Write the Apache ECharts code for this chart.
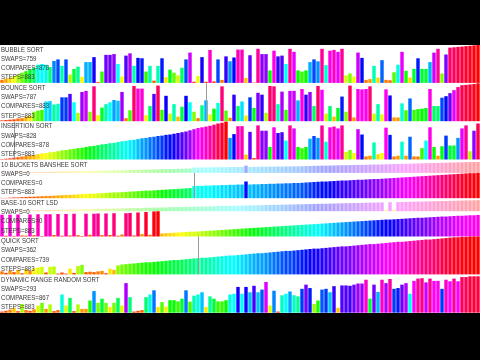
<!DOCTYPE html>
<html><head><meta charset="utf-8">
<script src="https://cdn.jsdelivr.net/npm/echarts@6/dist/echarts.min.js"></script>
<style>html,body{margin:0;padding:0;background:#000}#c{width:480px;height:360px}</style>
</head><body><div id="c"></div>
<script>
// ---- data ----
const categories = Array.from({length: 120}, (_, i) => i + 1);
const sortNames = ['BUBBLE SORT','BOUNCE SORT','INSERTION SORT','10 BUCKETS BANSHEE SORT','BASE-10 SORT LSD','QUICK SORT','DYNAMIC RANGE RANDOM SORT'];
const swapCounts = [759, 787, 828, 0, 0, 362, 293];
const compareCounts = [878, 883, 878, 0, 0, 739, 867];
const stepCounts = [883, 883, 883, 883, 883, 883, 883];
const pointerIndex = [null, 51, 3, 48, null, 49, null];

const bubbleVals = [8,11,14,18,22,27,31,36,40,48, 50,48,42,58,62,45,62,22,37,43,
 16,55,55,68,2,30,74,74,76,50, 17,72,78,45,66,65,30,45,6,45,
 65,15,35,27,20,40,62,80,3,18, 68,3,87,4,62,8,70,57,67,88,
 88,13,73,1,90,76,76,33,85,70, 72,50,90,82,33,30,33,55,62,57,
 90,47,85,87,82,90,20,25,17,80, 66,8,10,45,14,60,8,7,28,48,
 82,32,14,37,65,37,37,55,80,90, 25,75,93,94,95,96,97,98,99,100];
const bounceVals = [2,3,4,5,7,8,12,15,25,28, 30,52,53,44,46,63,63,72,50,22,
 77,80,25,92,16,36,45,50,56,54, 77,8,29,93,86,86,16,40,72,94,
 30,67,20,45,12,38,67,50,25,8, 42,55,18,33,48,92,28,9,70,40,
 52,15,63,35,75,70,22,93,92,45, 78,30,80,80,55,85,70,77,40,93,
 83,20,40,12,35,65,25,94,10,85, 84,85,92,20,45,18,84,68,10,10,
 47,29,60,30,32,33,35,85,40,40, 62,66,74,82,90,95,96,97,98,100];
const insertionVals = [1,2,3,5,6,8,9,11,12,14, 16,17,19,20,22,24,25,27,28,30,
 31,33,35,36,38,40,41,43,44,46, 48,49,51,52,54,56,57,59,60,62,
 63,65,66,68,70,72,74,77,80,83, 85,87,89,92,95,97,100,
 57,67,88,88,13,73,4,90,76,76, 33,85,70,72,50,90,82,33,30,33,
 55,62,57,90,47,85,87,82,90,20, 25,17,80,66,8,10,45,14,
 17,84,65,8,10,47,10,60,8,8, 30,50,85,33,10,35,63,37,37,57, 82,90,22,76,95];
const bucketVals = [1,1,2,3,3,4,5,6,6,7, 8,9,9,10,11,12,13,13,14,15,
 16,17,18,18,19,20,21,22,23,23, 24,25,26,27,28,29,30,30,31,32,
 33,34,35,36,37,38,39,40, 48,49,49,50,50,51,51,52,52,53,53,54,54, 66,
 54,55,55,56,56,57,57,58,58,59,59,60,60,61,
 62,63,64,65,66,66,67,68,69,70, 70,71,72,73,73,74,75,76,76,77,
 78,79,80,81,82,83,84,85,86,87, 88,89,90,91,92,93,94,95,96,97, 98,99,99,100];
const lsdVals = [86,3,86,2,87,4,3,87,5,88, 2,88,88,6,89,3,89,4,90,5,
 2,90,7,90,91,5,91,6,92,3, 8,92,93,4,95,10,97,7,99,100,
 12,13,14,15,16,17,18,19,19,20, 21,22,23,24,25,26,27,28,29,30,
 31,32,33,34,35,36,37,38,39,40, 41,42,43,44,45,46,47,48,49,50,
 51,52,53,54,55,56,57,58,59,60, 61,62,63,64,65,66,67,67,68,69,
 70,71,72,73,74,74,75,76,77,78, 79,79,80,81,82,82,83,84,84,85];
const lsdAux = [1,2,3,3,4,5,6,7,8,8, 9,10,11,12,13,13,14,15,16,17,
 18,18,19,20,21,22,23,23,24,25, 26,27,28,28,29,30,31,32,33,33,
 34,35,36,37,38,38,39,40,41,42, 43,43,44,45,46,47,48,48,49,50,
 51,52,53,53,54,55,56,57,58,58, 59,60,61,62,63,63,64,65,66,67,
 68,68,69,70,71,72,73,73,74,75, 76,77,78,78,79,80,15,82,14,83,
 84,85,86,87,88,88,89,90,91,92, 93,93,94,95,96,97,98,98,99,100];
const quickVals = [8,4,10,6,12,3,14,9,16,18, 20,5,20,21,2,5,2,15,4,22,
 25,6,7,6,8,9,3,15,12,24,
 26,27,28,29,30,31,32,32,33,34, 35,36,37,38,38,39,40,41,42,43,
 44,44,45,46,47,48,49,50,50,51, 52,53,54,55,56,56,57,58,59,60,
 61,62,62,63,64,65,66,67,68,68, 69,70,71,72,73,74,74,75,76,77,
 78,79,80,80,81,82,83,84,85,86, 86,87,88,89,90,91,92,92,93,94,
 95,96,97,98,98,99,99,100,100,100];
const dynamicVals = [3,5,8,13,4,23,7,5,9,19, 26,10,22,4,7,48,19,39,4,22,
 10,10,32,57,26,37,26,15,26,39, 19,78,41,3,5,7,41,48,59,15,
 28,16,33,33,30,37,59,29,45,48, 54,15,43,37,30,30,33,48,50,68,
 50,68,54,71,54,61,81,19,58,3, 46,50,56,46,43,63,74,65,23,32,
 61,63,54,70,13,72,72,71,74,77, 77,87,37,74,55,87,78,89,63,65,
 74,78,50,84,90,91,80,90,84,84, 63,87,83,90,83,94,94,96,96,96];

const mainData = [bubbleVals, bounceVals, insertionVals, bucketVals, lsdVals, quickVals, dynamicVals];
const auxData = [null, null, null, bucketVals, lsdAux, null, null];

// ---- layout ----
const PANEL_TOP = 45, PANEL_H = 38.3;
const grids = [], xAxes = [], yAxes = [], series = [], graphics = [];
function addGrid(top, h) {
  const gi = grids.length;
  grids.push({left: 0, right: 0, top: top, height: h});
  xAxes.push({type: 'category', gridIndex: gi, data: categories, show: false});
  yAxes.push({type: 'value', gridIndex: gi, min: 0, max: 100, show: false});
  return gi;
}
const solid = p => 'hsl(' + (p.value * 3.6) + ',100%,50%)';
const pale = p => 'hsl(' + (p.value * 3.6) + ',100%,82%)';
function pointerLine(i) {
  if (pointerIndex[i] == null) return undefined;
  return {silent: true, symbol: ['none','none'], label: {show: false},
    lineStyle: {color: '#9a9a9a', width: 1, type: 'solid'},
    data: [{xAxis: pointerIndex[i]}]};
}
graphics.push({type: 'rect', z: 0, shape: {x: 0, y: PANEL_TOP, width: 480, height: PANEL_H * 7}, style: {fill: '#fff'}});
for (let i = 0; i < 7; i++) {
  const top = PANEL_TOP + PANEL_H * i;
  let gi;
  if (auxData[i]) {
    const ai = addGrid(top + 2, 11);
    series.push({type: 'bar', xAxisIndex: ai, yAxisIndex: ai, data: auxData[i], barCategoryGap: '14%',
      itemStyle: {color: pale}, silent: true});
    gi = addGrid(top + 13, PANEL_H - 13);
  } else {
    gi = addGrid(top, PANEL_H - 0.4);
  }
  series.push({type: 'bar', xAxisIndex: gi, yAxisIndex: gi, data: mainData[i], barCategoryGap: '14%',
    itemStyle: {color: solid}, silent: true, markLine: pointerLine(i)});
  const lines = [sortNames[i], 'SWAPS=' + swapCounts[i], 'COMPARES=' + compareCounts[i], 'STEPS=' + stepCounts[i]];
  lines.forEach((t, j) => {
    graphics.push({type: 'text', z: 100, x: 1, y: top + 4.5 + j * 9.2, scaleX: 0.76,
      style: {text: t, font: '8px "Liberation Sans", sans-serif', fill: '#383838', textVerticalAlign: 'middle'}});
  });
}
const chart = echarts.init(document.getElementById('c'), null, {renderer: 'canvas'});
chart.setOption({
  backgroundColor: '#000', animation: false,
  grid: grids, xAxis: xAxes, yAxis: yAxes, series: series, graphic: graphics
});
</script></body></html>
